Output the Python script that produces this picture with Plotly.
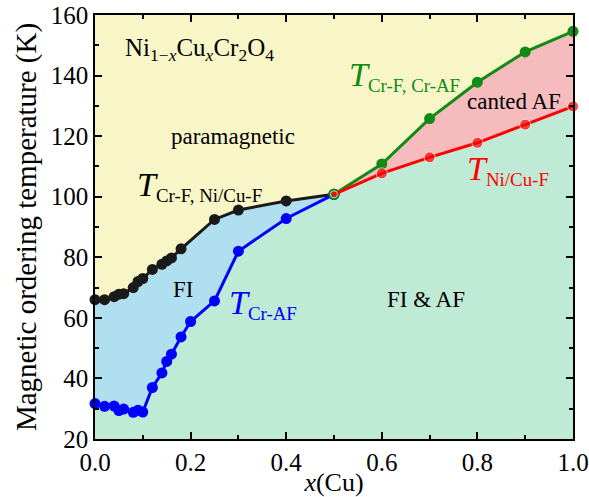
import plotly.graph_objects as go

# Ni(1-x)Cu(x)Cr2O4 magnetic phase diagram
x_black = [0.0, 0.02, 0.04, 0.05, 0.06, 0.08, 0.09, 0.10, 0.12, 0.14, 0.15, 0.16, 0.18, 0.25, 0.30, 0.40, 0.50]
t_black = [66, 66, 67, 67.8, 68, 70, 72, 73, 76, 77.7, 78.8, 79.8, 82.8, 92.5, 95.6, 98.6, 100.8]

x_blue = [0.0, 0.02, 0.04, 0.05, 0.06, 0.08, 0.09, 0.10, 0.12, 0.14, 0.15, 0.16, 0.18, 0.20, 0.25, 0.30, 0.40, 0.50]
t_blue = [31.7, 30.8, 30.9, 29.4, 29.9, 28.8, 29.5, 28.9, 37, 41.8, 45.6, 48, 53.7, 58.8, 65.6, 82, 92.8, 100.8]

x_green = [0.5, 0.6, 0.7, 0.8, 0.9, 1.0]
t_green = [100.8, 110.8, 125.8, 137.8, 147.8, 154.6]

x_red = [0.5, 0.6, 0.7, 0.8, 0.9, 1.0]
t_red = [100.8, 107.7, 113, 117.8, 123.8, 129.8]

x_ticks = [0.0, 0.2, 0.4, 0.6, 0.8, 1.0]
y_ticks = [20, 40, 60, 80, 100, 120, 140, 160]

FONT = "Liberation Serif"
C_PARA = "#f8f6c6"
C_FI = "#b0e0f0"
C_FIAF = "#bfead6"
C_CANT = "#f6bcbd"
C_BLACK = "#1a1a1a"
C_BLUE = "#0000ff"
C_GREEN = "#118a16"
C_RED = "#ff0000"

fig = go.Figure()

# phase regions (filled down to the bottom of the axis)
fig.add_trace(go.Scatter(x=x_black, y=t_black, mode="lines", line=dict(width=0),
                         fill="tozeroy", fillcolor=C_FI, hoverinfo="skip"))
fig.add_trace(go.Scatter(x=x_green, y=t_green, mode="lines", line=dict(width=0),
                         fill="tozeroy", fillcolor=C_CANT, hoverinfo="skip"))
fig.add_trace(go.Scatter(x=x_blue + x_red[1:], y=t_blue + t_red[1:], mode="lines",
                         line=dict(width=0), fill="tozeroy", fillcolor=C_FIAF,
                         hoverinfo="skip"))

# transition lines
def curve(xs, ys, color, sizes=11):
    fig.add_trace(go.Scatter(x=xs, y=ys, mode="lines+markers", cliponaxis=False,
                             line=dict(color=color, width=3),
                             marker=dict(color=color, size=sizes)))

curve(x_black, t_black, C_BLACK)
curve(x_blue, t_blue, C_BLUE)
curve(x_green, t_green, C_GREEN)
curve(x_red, t_red, C_RED, [7] + [11] * (len(x_red) - 1))

def label(x, y, text, color="black", size=23, xanchor="left"):
    fig.add_annotation(x=x, y=y, text=text, showarrow=False, xanchor=xanchor,
                       yanchor="middle", font=dict(family=FONT, size=size, color=color))

def tlabel(x, y, sub, color):
    label(x, y, '<span style="font-size:34px"><i>T</i></span><sub>' + sub + '</sub>',
          color=color, size=27)

label(0.058, 148.5, "Ni<sub>1−<i>x</i></sub>Cu<sub><i>x</i></sub>Cr<sub>2</sub>O<sub>4</sub>", size=25)
label(0.289, 120, "paramagnetic", xanchor="center")
label(0.185, 69.2, "FI", xanchor="center")
label(0.692, 66.2, "FI &amp; AF", xanchor="center")
label(0.877, 131.6, "canted AF", xanchor="center")
tlabel(0.084, 103.5, "Cr-F, Ni/Cu-F", "black")
tlabel(0.276, 64.5, "Cr-AF", C_BLUE)
tlabel(0.527, 139.8, "Cr-F, Cr-AF", C_GREEN)
tlabel(0.774, 108.8, "Ni/Cu-F", C_RED)

axis_common = dict(showline=True, linecolor="black", linewidth=1.5, mirror="ticks",
                   ticks="inside", ticklen=7, tickwidth=1.5, tickcolor="black",
                   showgrid=False, zeroline=False, automargin=False,
                   tickfont=dict(family=FONT, size=25, color="black"))

fig.update_xaxes(range=[0, 1], tickvals=x_ticks, tickformat=".1f",
                 minor=dict(ticks="inside", dtick=0.1, ticklen=4, tickwidth=1.5,
                            tickcolor="black"),
                 title=dict(text="<i>x</i>(Cu)", standoff=0,
                            font=dict(family=FONT, size=26, color="black")),
                 **axis_common)
fig.update_yaxes(range=[20, 160], tickvals=y_ticks,
                 minor=dict(ticks="inside", dtick=10, ticklen=4, tickwidth=1.5,
                            tickcolor="black"),
                 title=dict(text="Magnetic ordering temperature (K)", standoff=6,
                            font=dict(family=FONT, size=29, color="black")),
                 **axis_common)

fig.update_layout(width=589, height=497, showlegend=False,
                  margin=dict(l=95, r=16, t=15, b=58),
                  plot_bgcolor=C_PARA, paper_bgcolor="white",
                  font=dict(family=FONT))

fig.write_html("out.html")
